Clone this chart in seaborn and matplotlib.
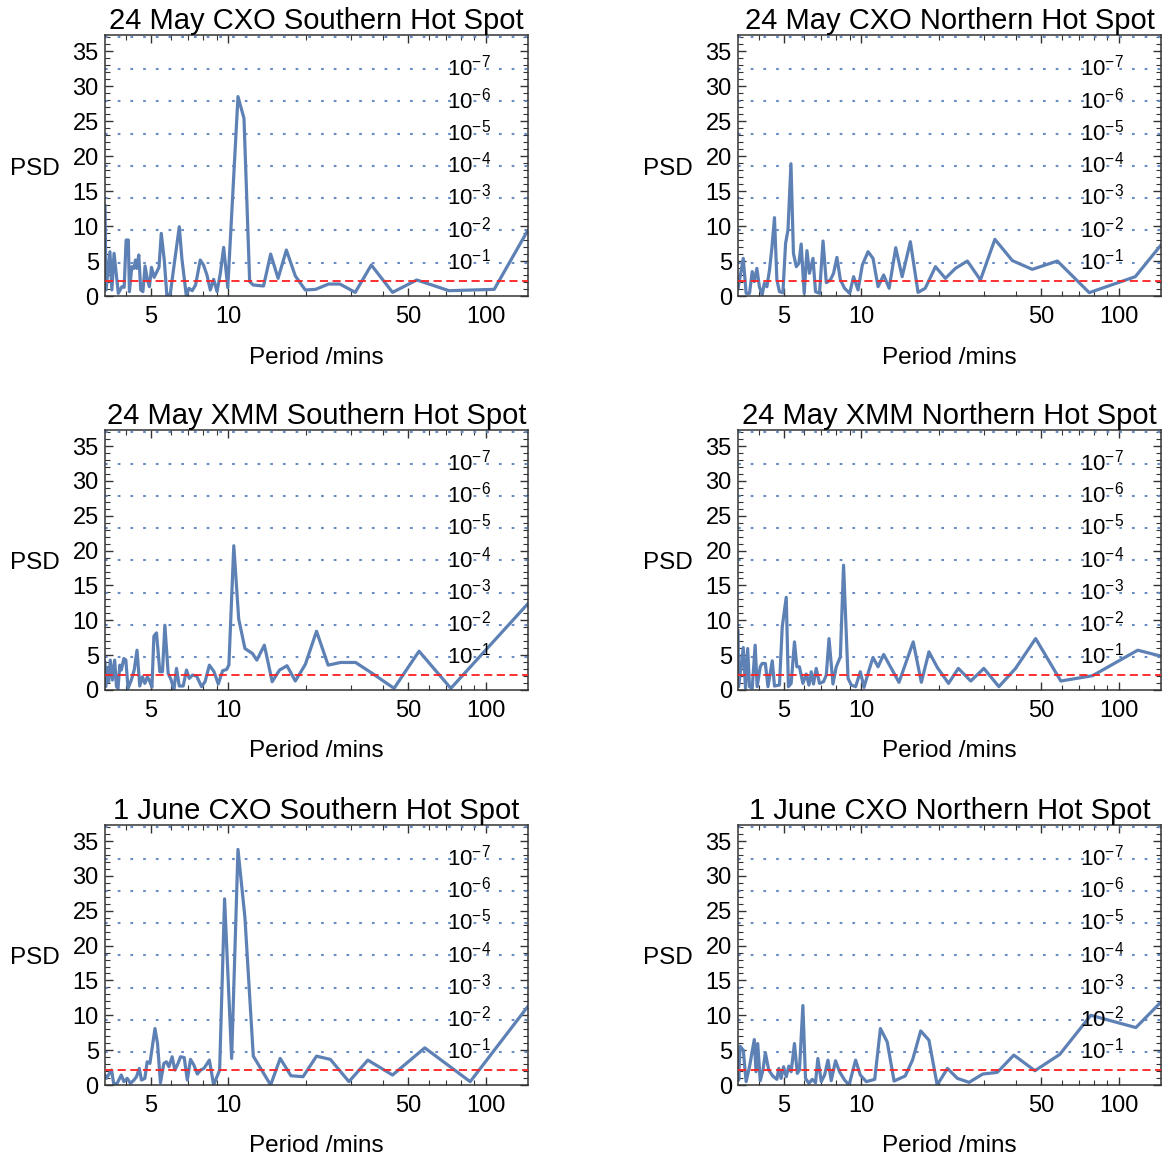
import numpy as np
import pandas as pd
import matplotlib
matplotlib.use("Agg")
import matplotlib.pyplot as plt
import seaborn as sns
from matplotlib.ticker import FixedLocator, NullFormatter, MultipleLocator

# ---------------- data (period in minutes, PSD) ----------------
titles = ["24 May CXO Southern Hot Spot", "24 May CXO Northern Hot Spot",
          "24 May XMM Southern Hot Spot", "24 May XMM Northern Hot Spot",
          "1 June CXO Southern Hot Spot", "1 June CXO Northern Hot Spot"]

p1_period = [3.32, 3.35, 3.47, 3.53, 3.60, 3.74, 3.86, 3.94, 4.01, 4.09, 4.13, 4.22, 4.30, 4.36, 4.41,
             4.49, 4.57, 4.66, 4.75, 4.85, 4.94, 5.03, 5.15, 5.28, 5.38, 5.49, 5.64, 5.77, 5.95, 6.22,
             6.45, 6.60, 6.87, 7.03, 7.24, 7.46, 7.78, 8.01, 8.26, 8.51, 8.77, 9.04, 9.31, 9.59, 9.95,
             10.9, 11.5, 12.1, 12.5, 13.7, 14.6, 15.6, 16.8, 18.2, 19.9, 21.8, 24.5, 27.1, 31.1, 35.9,
             43.4, 53.9, 71.9, 107.7, 145.7]
p1_psd = [13.0, 0.86, 6.33, 0.86, 6.1, 0.38, 1.33, 1.24, 8.0, 8.0, 0.62, 4.19, 3.95, 5.14, 3.95,
          5.86, 0.86, 0.62, 4.29, 2.29, 1.33, 4.1, 2.67, 3.48, 4.1, 8.95, 5.14, 0.14, 0.29, 5.62,
          9.9, 5.38, 0.0, 1.1, 0.76, 1.57, 5.14, 4.43, 3.0, 0.86, 2.38, 0.62, 3.24, 6.95, 1.2,
          28.5, 25.4, 2.05, 1.57, 1.43, 6.0, 2.52, 6.57, 2.86, 0.86, 0.95, 1.71, 1.71, 0.52, 4.43,
          0.52, 2.29, 0.76, 0.95, 9.43]

p2_period = [3.32, 3.48, 3.57, 3.68, 3.77, 3.84, 3.93, 4.02, 4.12, 4.20, 4.30, 4.40, 4.50, 4.60, 4.70,
             4.81, 4.96, 5.08, 5.19, 5.33, 5.45, 5.59, 5.72, 5.84, 6.00, 6.15, 6.29, 6.49, 6.64, 6.88,
             7.10, 7.31, 7.58, 7.80, 8.04, 8.29, 8.61, 9.01, 9.33, 9.71, 10.09, 10.62, 11.10, 11.61, 12.21,
             12.82, 13.6, 14.4, 15.5, 16.6, 17.7, 19.4, 21.2, 23.2, 25.8, 29.0, 33.0, 38.6, 46.1, 57.7,
             76.7, 115.8, 145.7]
p2_psd = [1.0, 5.38, 0.38, 0.38, 3.48, 2.05, 3.95, 1.33, 0.14, 1.81, 1.33, 3.71, 7.05, 11.2, 2.29,
          0.62, 0.48, 7.52, 9.43, 18.9, 6.1, 4.19, 4.67, 7.43, 0.38, 6.48, 3.24, 5.38, 0.62, 0.38,
          7.86, 1.9, 2.29, 3.24, 5.52, 2.29, 1.1, 0.38, 2.76, 0.86, 4.43, 6.33, 5.38, 1.33, 3.0,
          1.1, 6.9, 2.76, 7.76, 0.52, 1.1, 4.19, 2.52, 3.95, 5.0, 2.29, 8.1, 5.05, 3.81, 5.0,
          0.48, 2.76, 7.29]

p3_period = [3.32, 3.34, 3.38, 3.43, 3.48, 3.55, 3.62, 3.68, 3.73, 3.79, 3.84, 3.93, 4.00, 4.08, 4.20,
             4.31, 4.42, 4.53, 4.64, 4.74, 4.85, 4.96, 5.05, 5.14, 5.26, 5.42, 5.55, 5.67, 5.84, 6.00,
             6.15, 6.29, 6.45, 6.68, 6.88, 7.05, 7.26, 7.53, 7.87, 8.12, 8.44, 8.80, 9.14, 9.50, 9.85,
             10.05, 10.5, 10.97, 11.6, 12.4, 12.9, 13.8, 14.8, 15.8, 16.9, 18.2, 19.9, 22.0, 24.4, 27.3,
             31.2, 36.5, 44.0, 55.0, 73.1, 145.7]
p3_psd = [4.05, 0.48, 3.24, 1.19, 4.29, 1.43, 4.29, 0.48, 0.24, 3.57, 2.86, 4.52, 4.29, 0.24, 1.43,
          2.86, 5.71, 0.57, 1.9, 0.95, 1.9, 1.19, 0.4, 7.71, 8.19, 2.62, 2.62, 9.29, 2.38, 1.43,
          0.0, 3.1, 0.57, 0.57, 2.86, 1.67, 2.14, 2.0, 0.48, 1.19, 3.57, 2.62, 0.86, 2.76, 2.95,
          3.6, 20.7, 10.2, 5.95, 5.24, 4.29, 6.43, 1.19, 2.86, 3.48, 1.29, 3.67, 8.43, 3.57, 3.95,
          3.95, 2.3, 0.24, 5.57, 0.24, 12.4]

p4_period = [3.32, 3.34, 3.48, 3.55, 3.62, 3.68, 3.77, 3.87, 3.94, 4.05, 4.12, 4.24, 4.34, 4.51, 4.60,
             4.81, 4.93, 5.11, 5.21, 5.34, 5.50, 5.62, 5.75, 5.93, 6.11, 6.26, 6.39, 6.52, 6.68, 6.88,
             7.13, 7.31, 7.49, 7.76, 7.99, 8.29, 8.53, 8.88, 9.14, 9.50, 9.91, 10.24, 10.71, 11.10, 11.61,
             12.21, 14.0, 15.9, 17.1, 18.3, 19.75, 21.8, 23.8, 26.6, 29.9, 34.2, 39.7, 47.5, 59.5, 79.0,
             118.3, 145.7]
p4_psd = [8.57, 0.48, 6.1, 0.24, 5.95, 0.48, 0.24, 6.43, 0.48, 3.33, 3.81, 3.81, 0.48, 4.19, 0.57,
          0.71, 9.05, 13.3, 0.48, 0.95, 6.9, 3.33, 3.33, 0.95, 2.29, 0.71, 2.62, 0.86, 3.1, 0.95,
          1.19, 2.14, 7.38, 0.86, 3.33, 4.76, 17.9, 1.67, 0.71, 0.48, 2.62, 0.38, 2.86, 4.67, 3.33,
          5.1, 1.1, 6.9, 1.1, 5.48, 3.2, 0.95, 3.1, 1.29, 3.1, 0.48, 3.1, 7.38, 1.29, 2.05,
          5.71, 4.86]

p5_period = [3.32, 3.36, 3.52, 3.59, 3.70, 3.84, 3.93, 4.05, 4.17, 4.30, 4.40, 4.51, 4.60, 4.74, 4.84,
             4.96, 5.19, 5.31, 5.45, 5.62, 5.75, 5.88, 6.05, 6.20, 6.36, 6.52, 6.74, 6.93, 7.13, 7.35,
             7.58, 7.80, 8.04, 8.44, 8.77, 9.25, 9.67, 10.3, 10.9, 11.6, 12.5, 14.6, 15.9, 17.5, 19.5,
             22.0, 24.9, 29.4, 34.8, 43.4, 57.9, 86.9, 145.7]
p5_psd = [1.43, 0.95, 2.14, 0.14, 0.24, 1.43, 0.48, 0.95, 0.24, 0.71, 1.19, 2.38, 0.71, 0.95, 3.33,
          3.1, 8.1, 5.95, 0.33, 3.1, 3.33, 2.62, 4.05, 2.14, 3.0, 4.05, 3.95, 0.71, 3.67, 2.86,
          1.57, 2.14, 2.38, 3.57, 0.0, 2.14, 26.7, 3.81, 33.8, 24.0, 4.14, 0.0, 3.81, 1.33, 1.19,
          4.14, 3.67, 0.48, 3.57, 1.43, 5.33, 0.48, 11.3]

p6_period = [3.32, 3.34, 3.38, 3.48, 3.57, 3.68, 3.84, 3.90, 3.96, 4.05, 4.15, 4.24, 4.37, 4.53, 4.70,
             4.78, 4.88, 4.99, 5.11, 5.23, 5.34, 5.50, 5.64, 5.75, 5.93, 6.07, 6.26, 6.45, 6.64, 6.78,
             6.99, 7.20, 7.42, 7.64, 7.94, 8.23, 8.61, 8.96, 9.50, 9.91, 10.45, 11.27, 11.86, 12.6, 13.4,
             14.8, 15.8, 17.0, 18.3, 19.7, 21.6, 23.6, 26.2, 29.6, 33.7, 39.1, 47.2, 58.9, 77.8, 116.4,
             145.7]
p6_psd = [4.05, 0.71, 5.57, 5.0, 0.48, 2.62, 6.52, 1.9, 5.95, 0.62, 2.14, 4.62, 2.14, 1.29, 0.81,
          2.38, 0.95, 2.62, 1.19, 2.71, 1.9, 5.95, 1.67, 2.14, 11.4, 0.95, 0.24, 0.81, 0.33, 3.81,
          0.48, 1.43, 3.57, 0.62, 3.48, 1.9, 0.71, 0.0, 3.57, 1.43, 0.48, 0.81, 8.1, 6.19, 0.57,
          1.29, 3.57, 7.76, 6.43, 0.0, 2.38, 0.95, 0.38, 1.57, 1.81, 4.29, 2.05, 4.38, 10.0, 8.24,
          11.9]

# false-alarm-probability levels (PSD) and their labels
fap_levels = [4.76, 9.37, 13.98, 18.59, 23.20, 27.80, 32.41, 37.02]
fap_labels = ["1", "2", "3", "4", "5", "6", "7"]
mean_level = 2.15

x_major = [5, 10, 50, 100]
x_major_labels = ["5", "10", "50", "100"]
y_major = [0, 5, 10, 15, 20, 25, 30, 35]

# ---------------- style ----------------
sns.set_theme(style="ticks")
plt.rcParams["font.family"] = ["Liberation Sans", "DejaVu Sans"]
plt.rcParams["mathtext.fontset"] = "custom"
plt.rcParams["mathtext.rm"] = "Liberation Sans"
plt.rcParams["mathtext.it"] = "Liberation Sans:italic"
plt.rcParams["mathtext.bf"] = "Liberation Sans:bold"

line_color = "#5E81B5"
dot_color = "#6A8CC4"
frame_color = "#333333"

fig = plt.figure(figsize=(11.7, 11.6), dpi=100)
W, H = 1170.0, 1160.0
col_x = [105, 738]
row_y = [(35, 296), (430, 690), (825, 1085)]
axw = 423

series = [(p1_period, p1_psd), (p2_period, p2_psd), (p3_period, p3_psd),
          (p4_period, p4_psd), (p5_period, p5_psd), (p6_period, p6_psd)]

for i, ((per, psd), title) in enumerate(zip(series, titles)):
    r, c = divmod(i, 2)
    top, bot = row_y[r]
    ax = fig.add_axes([col_x[c] / W, 1 - bot / H, axw / W, (bot - top) / H])
    df = pd.DataFrame({"Period": per, "PSD": psd})
    for lev in fap_levels:
        ax.axhline(lev, color=dot_color, lw=1.5, ls=(0, (1.3, 4.8)), zorder=1)
    sns.lineplot(data=df, x="Period", y="PSD", ax=ax, color=line_color, lw=2.3,
                 estimator=None, sort=False, zorder=2)
    ax.axhline(mean_level, color="#FF2020", lw=1.3, ls=(0, (4.5, 2.5)), zorder=3)

    ax.set_xscale("log")
    ax.set_xlim(3.32, 145.7)
    ax.set_ylim(0, 37.3)
    ax.xaxis.set_major_locator(FixedLocator(x_major))
    ax.set_xticklabels(x_major_labels)
    minors = [m * 10 ** e for e in (0, 1, 2) for m in range(2, 10)]
    minors = [v for v in minors if v not in x_major]
    ax.xaxis.set_minor_locator(FixedLocator(minors))
    ax.xaxis.set_minor_formatter(NullFormatter())
    ax.yaxis.set_major_locator(FixedLocator(y_major))
    ax.yaxis.set_minor_locator(MultipleLocator(1))

    ax.tick_params(which="both", direction="in", top=True, right=True,
                   color=frame_color, labelsize=17, labelcolor="black")
    ax.tick_params(which="major", length=6, width=1.0)
    ax.tick_params(which="minor", length=3.5, width=0.8)
    ax.tick_params(axis="x", pad=7.5)
    ax.tick_params(axis="y", pad=4.5)
    for sp in ax.spines.values():
        sp.set_color(frame_color)
        sp.set_linewidth(1.1)

    ax.set_xlabel("")
    ax.set_ylabel("")
    ax.text(-0.107, 0.488, "PSD", transform=ax.transAxes, ha="right", va="center",
            fontsize=17.5, color="black")
    ax.text(0.5, -0.236, "Period /mins", transform=ax.transAxes, ha="center",
            va="center", fontsize=17.5, color="black")
    ax.set_title(title, fontsize=21, pad=4, color="black")

    trans = ax.get_yaxis_transform()
    for lev, lab in zip(fap_levels[:7], fap_labels):
        ax.text(0.808, lev - 0.95, r"$\mathregular{10^{-%s}}$" % lab, transform=trans,
                ha="left", va="baseline", fontsize=16, color="black", zorder=4)

fig.savefig("out.png", dpi=100)
